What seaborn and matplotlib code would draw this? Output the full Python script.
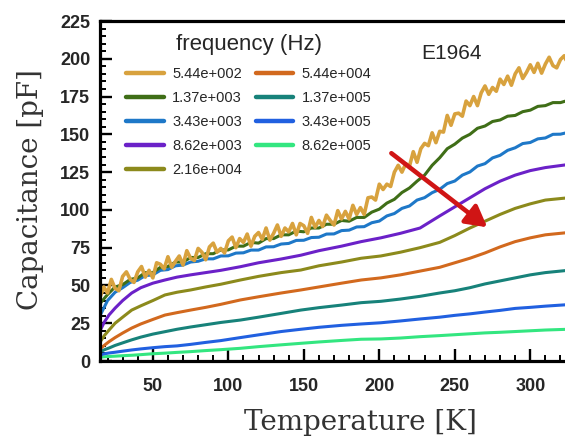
import numpy as np
import pandas as pd
import matplotlib
matplotlib.use("Agg")
import matplotlib.pyplot as plt
import seaborn as sns
from matplotlib.ticker import MultipleLocator

# ---- data -------------------------------------------------------------
freq_labels = ["5.44e+002", "1.37e+003", "3.43e+003", "8.62e+003", "2.16e+004",
               "5.44e+004", "1.37e+005", "3.43e+005", "8.62e+005"]
colors = ["#D8A23E", "#3F6E17", "#1E78C8", "#6B21C8", "#8C8A1C",
          "#D2691E", "#17827A", "#2160E0", "#33E680"]

# fine temperature grid (K) for the lowest frequency
temp_fine = np.arange(15, 325.1, 2.5)
cap_544 = [42, 49, 45, 54, 48, 46.5, 56, 59, 54, 52, 59, 62.5, 55.5, 60, 55, 65,
           64, 61, 69, 62, 66, 69.5, 63.5, 73, 68, 66.5, 74.5, 72, 67, 75.5, 78,
           72, 74.5, 71.5, 79.5, 82, 75, 81, 78.5, 84, 76, 82.5, 85, 80.5, 88, 80,
           84.5, 90, 82.5, 88, 85.5, 91, 83.5, 91, 89.5, 84.5, 95, 88.5, 93, 89,
           96.5, 93, 90, 99.5, 94, 99, 94, 103, 97, 101.5, 97, 108, 108.5, 106.5,
           117, 113.5, 117, 115.5, 125, 129.5, 125, 130.5, 129, 138.5, 131.5,
           140.5, 144, 142.5, 151, 144.5, 152, 151.5, 162.5, 156, 163.5, 164, 162,
           172, 169, 175, 169, 177.5, 182, 176.5, 181, 178.5, 186.5, 183, 188.5,
           182.5, 190, 194, 187, 191, 196, 191, 197, 190.5, 196.5, 201, 195.5,
           194, 199.5, 202, 196]

# 5 K grid for the next two frequencies
temp_mid = np.arange(15, 325.1, 5)
cap_1370 = [38, 44, 49, 50.5, 54, 55, 58.5, 58.5, 62, 62.5, 65.5, 65.5, 68.5, 68.5,
            71, 71, 73.5, 73.5, 76, 76, 78.5, 78, 81, 81, 83.5, 83.5, 86, 85.5, 88,
            88, 90.5, 90.5, 93, 92.5, 95, 95, 98.5, 100.5, 104.5, 107, 111.5, 114.5,
            119, 123, 129.5, 134.5, 140.5, 143.5, 147.5, 150, 154, 155.5, 158.5,
            159.5, 162, 162.5, 165, 166, 168.5, 169, 171, 171, 172.5]
cap_3430 = [30, 40, 45.5, 48.5, 52, 53.5, 56.5, 57, 60, 60.5, 63, 63.5, 65.5, 66,
            67.6, 67.6, 69.5, 69.6, 71.4, 71.6, 73.4, 73.4, 75.5, 75.6, 77.4, 77.8,
            79.8, 79.9, 81.7, 81.9, 84, 84.1, 86.3, 86.6, 88.7, 88.9, 91.5, 92.6, 96,
            97.6, 101, 102.6, 106.5, 108.1, 111.4, 113.6, 117.4, 119.1, 123, 125.1,
            129, 130.6, 134.4, 136.1, 139.4, 141.1, 143.9, 144.6, 147, 147.6, 150,
            150.1, 151.3]

# coarse grid for the smooth high-frequency curves
temp_coarse = [15, 18, 21, 25, 30, 36, 42, 50, 58, 66, 75, 85, 95, 108, 120, 135,
               148, 160, 175, 188, 201, 214, 227, 240, 250, 260, 270, 280, 290,
               300, 310, 325]
cap_8620 = [20, 26, 30.5, 35, 40, 45, 48.5, 51.5, 53.6, 55.5, 57, 58.5, 60, 62.4,
            65, 67.5, 70, 73, 76, 79, 81.5, 84.5, 88, 96, 102, 108, 114, 119, 123,
            126, 128, 130]
cap_21600 = [12.5, 17, 20.5, 25, 29, 33.7, 36.5, 40, 43.7, 45.5, 47, 49, 50.8,
             53.6, 56, 58.5, 60.2, 63, 65.5, 68, 69.5, 72, 75, 78.5, 83, 88, 92.5,
             97, 101, 104, 106.5, 108]
cap_54400 = [8, 10.5, 12.8, 15.5, 18.5, 21.8, 24.5, 27.5, 30.4, 32, 33.7, 35.5,
             37.5, 40.4, 42.5, 45, 47, 49, 51.5, 53.6, 55, 57, 59.5, 62, 65, 68,
             71.5, 75.5, 79, 81.5, 83.5, 85]
cap_137000 = [6, 7.5, 8.6, 10.3, 12, 14, 15.8, 17.8, 19.4, 21, 22.5, 24, 25.5,
              27.1, 29, 31.5, 33.7, 35.3, 37, 38.6, 39.5, 41, 42.8, 45, 46.5, 48.5,
              51, 53, 55, 57, 58.5, 60]
cap_343000 = [4, 4.8, 5.3, 5.8, 6.5, 7.3, 8, 8.8, 9.5, 10, 11, 12.3, 13.5, 15.5,
              17.3, 19.5, 21, 22.3, 23.6, 24.5, 25.3, 26.5, 27.8, 29, 30.2, 31.2,
              32.4, 33.5, 34.8, 35.5, 36.3, 37.3]
cap_862000 = [2.5, 2.8, 3, 3.2, 3.5, 3.8, 4.2, 4.8, 5.2, 5.7, 6.2, 6.9, 7.5, 8.4,
              9.5, 10.7, 11.7, 12.6, 13.6, 14.4, 14.6, 15.2, 16.1, 16.8, 17.4, 18,
              18.6, 19, 19.5, 20, 20.5, 21]

series = [
    (temp_fine, cap_544), (temp_mid, cap_1370), (temp_mid, cap_3430),
    (temp_coarse, cap_8620), (temp_coarse, cap_21600), (temp_coarse, cap_54400),
    (temp_coarse, cap_137000), (temp_coarse, cap_343000), (temp_coarse, cap_862000),
]

# arrow marking the shift of the step with increasing frequency
arrow_tail = (208, 137.5)
arrow_head = (271.5, 88.5)

# ---- figure -----------------------------------------------------------
sns.set_style("white")
plt.rcParams["font.family"] = ["Liberation Sans", "DejaVu Sans"]

fig = plt.figure(figsize=(5.65, 4.42), dpi=100)
ax = fig.add_axes([100 / 565, 81 / 442, 465 / 565, 340 / 442])

frames = []
for label, (t, c) in zip(freq_labels, series):
    frames.append(pd.DataFrame({"T": t, "C": c, "freq": label}))
df = pd.concat(frames, ignore_index=True)

# draw highest frequency first so the low-frequency curves sit on top
for label, col in reversed(list(zip(freq_labels, colors))):
    sub = df[df["freq"] == label]
    lw = 2.6 if label == freq_labels[0] else 2.2
    sns.lineplot(data=sub, x="T", y="C", color=col, linewidth=lw,
                 estimator=None, sort=False, ax=ax, label=label)

ax.annotate("", xy=arrow_head, xytext=arrow_tail,
            arrowprops=dict(arrowstyle="-|>,head_length=0.9,head_width=0.5",
                            color="#D01515", lw=3.3, shrinkA=0, shrinkB=0,
                            mutation_scale=14))

ax.set_xlim(15, 323)
ax.set_ylim(0, 225)
ax.xaxis.set_major_locator(MultipleLocator(50))
ax.xaxis.set_minor_locator(MultipleLocator(10))
ax.yaxis.set_major_locator(MultipleLocator(25))
ax.yaxis.set_minor_locator(MultipleLocator(5))
ax.tick_params(which="both", bottom=True, left=True, top=False, right=False,
               direction="in", color="black")
ax.tick_params(which="major", length=8.5, width=1.7)
ax.tick_params(which="minor", length=4.5, width=1.4)
ax.tick_params(axis="x", which="major", pad=12, labelsize=13)
ax.tick_params(axis="y", which="major", pad=7, labelsize=13)
for lab in ax.get_xticklabels() + ax.get_yticklabels():
    lab.set_fontweight("bold")

for side in ["left", "top", "bottom"]:
    ax.spines[side].set_linewidth(2.3)
    ax.spines[side].set_color("black")
ax.spines["right"].set_visible(False)

ax.set_xlabel("")
ax.set_ylabel("")
fig.text(360 / 565, 1 - 423 / 442, "Temperature [K]", family="DejaVu Serif",
         fontsize=20, color="#333333", ha="center", va="center")
fig.text(31 / 565, 1 - 190 / 442, "Capacitance [pF]", family="DejaVu Serif",
         fontsize=20, color="#333333", ha="center", va="center", rotation=90)

ax.text(0.69, 0.905, "E1964", transform=ax.transAxes, fontsize=15,
        ha="left", va="center")

handles, labels = ax.get_legend_handles_labels()
order = [labels.index(l) for l in freq_labels]
leg = ax.legend([handles[i] for i in order], [labels[i] for i in order],
                title="frequency (Hz)", ncol=2, frameon=False,
                loc="upper left", bbox_to_anchor=(0.056, 0.962),
                fontsize=10.5, title_fontsize=16, handlelength=2.6,
                handletextpad=0.55, columnspacing=0.95, labelspacing=0.68,
                borderpad=0, borderaxespad=0)
leg._legend_box.sep = 9
for line in leg.get_lines():
    line.set_linewidth(3.2)

fig.savefig("out.png", dpi=100)
